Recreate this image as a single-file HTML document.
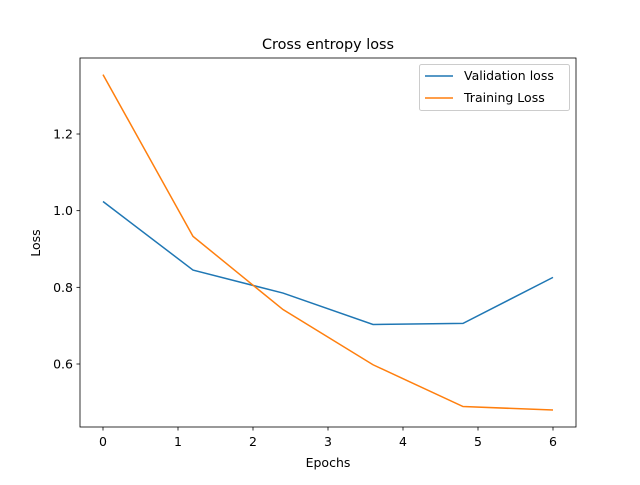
<!DOCTYPE html>
<html><head><meta charset="utf-8"><style>
body{margin:0;background:#fff;}
text{font-family:"DejaVu Sans","Liberation Sans",sans-serif;}
</style></head><body>
<svg id="chart" width="640" height="480" viewBox="0 0 640 480">
<rect width="640" height="480" fill="#fff"/>
<text x="328" y="49" font-size="14.4" text-anchor="middle">Cross entropy loss</text>
<g id="ticks"></g>
<g id="lines"></g>
<rect x="80" y="58" width="496" height="369" fill="none" stroke="#000" stroke-width="0.8"/>
<text x="328" y="467" font-size="12.5" text-anchor="middle">Epochs</text>
<text x="40" y="243" font-size="12.5" text-anchor="middle" transform="rotate(-90 40 243)">Loss</text>
<g>
<rect x="419.5" y="64.5" width="150" height="46" rx="2" fill="#fff" fill-opacity="0.8" stroke="#ccc"/>
<line x1="425" y1="76" x2="453" y2="76" stroke="#1f77b4" stroke-width="1.5"/>
<text x="464" y="80" font-size="12.5">Validation loss</text>
<line x1="425" y1="98" x2="453" y2="98" stroke="#ff7f0e" stroke-width="1.5"/>
<text x="464" y="102" font-size="12.5">Training Loss</text>
</g>
</svg>
<script>
const epochs=[0,1.2,2.4,3.6,4.8,6];
const validationLoss=[1.024,0.845,0.785,0.703,0.706,0.826];
const trainingLoss=[1.355,0.933,0.742,0.598,0.489,0.480];
const xTicks=[0,1,2,3,4,5,6];
const yTicks=[0.6,0.8,1.0,1.2];
const NS="http://www.w3.org/2000/svg";
const X=v=>103+(v-0)*75;
const Y=v=>364-(v-0.6)*383.33;
const tg=document.getElementById('ticks'), lg=document.getElementById('lines');
function mk(tag,attrs,parent){const e=document.createElementNS(NS,tag);for(const k in attrs)e.setAttribute(k,attrs[k]);parent.appendChild(e);return e;}
xTicks.forEach(t=>{
 const l=mk('line',{x1:X(t),x2:X(t),y1:427,y2:430.5,stroke:'#000','stroke-width':0.8},tg);
 
 
 const s=mk('text',{x:X(t),y:446,'font-size':12.5,'text-anchor':'middle'},tg);
 s.textContent=String(t);
 
 
});
yTicks.forEach(t=>{
 const l=mk('line',{x1:76.5,x2:80,y1:Y(t),y2:Y(t),stroke:'#000','stroke-width':0.8},tg);
 
 
 const s=mk('text',{x:73,y:Y(t)+4.5,'font-size':12.5,'text-anchor':'end'},tg);
 s.textContent=t.toFixed(1);
 
 
});
function series(vals,color,name){
 const p=mk('polyline',{points:epochs.map((e,i)=>X(e)+','+Y(vals[i])).join(' '),fill:'none',stroke:color,'stroke-width':1.5},lg);
 
 
}
series(validationLoss,'#1f77b4','validation-loss-line');
series(trainingLoss,'#ff7f0e','training-loss-line');
</script>
</body></html>
